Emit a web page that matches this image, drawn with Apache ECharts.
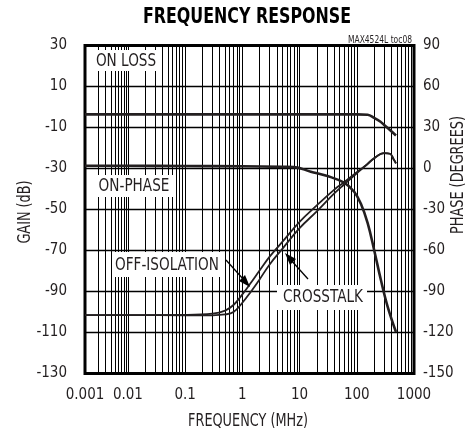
<!DOCTYPE html>
<html>
<head>
<meta charset="utf-8">
<script src="https://cdn.jsdelivr.net/npm/echarts@6/dist/echarts.min.js"></script>
<style>
  html, body { margin: 0; padding: 0; background: #fff; }
  #chart { width: 470px; height: 434px; }
</style>
</head>
<body>
<div id="chart"></div>
<script>
// frequency in MHz, gain in dB, phase in degrees
const X_LABELS = ['0.001', '0.01', '0.1', '1', '10', '100', '1000'];
const X_LABEL_FREQ = [0.001, 0.01, 0.1, 1, 10, 100, 1000];

const ONLOSS_FREQ = [0.001, 1, 100, 155, 201, 260, 301, 380, 484];
const ONLOSS_GAIN = [-3.6, -3.6, -3.6, -3.8, -5.3, -7.2, -8.8, -11.2, -13.9];

const PHASE_FREQ = [0.001, 0.01, 0.1, 1, 5, 8, 15.7, 30.7, 60, 90, 118, 155, 201, 264, 346, 484];
const PHASE_DEG = [2, 2, 1.8, 1.6, 1.2, 1, -2.3, -5.5, -10.4, -17, -25.8, -40, -59.6, -81.6, -101, -119.6];

const ISO_FREQ = [0.001, 0.01, 0.1, 0.3, 0.5, 0.7, 1, 1.4, 2, 3, 5, 10, 20, 40, 60, 100, 150, 200, 300, 380, 440, 484];
const OFF_ISOLATION = [-101.5, -101.5, -101.4, -100.8, -99.3, -96.6, -91.4, -85.9, -79.8, -73, -65.8, -56, -48, -40.4, -36.7, -31.8, -28, -25, -22.5, -22.8, -25.5, -27.5];
const CROSSTALK = [-101.5, -101.5, -101.6, -101.6, -101.2, -100, -95.5, -90.2, -84.1, -76.8, -69.2, -59.1, -50.9, -42.3, -37.8, -32.3, -28.2, -25.1, -22.5, -22.8, -25.5, -27.5];

// the first decade of the original plot is drawn narrower than the others
function toU(f) {
    const l = Math.log10(f)
    return l >= -2 ? l : -2 + (l + 2) * 0.75
}

const gridU = []
for (let d = -3; d < 3; d++) {
    for (let m = 1; m < 10; m++) {
        gridU.push(toU(m * Math.pow(10, d)))
    }
}
gridU.push(toU(1000))
const labelU = X_LABEL_FREQ.map(toU)

const FONT = "'Liberation Sans Narrow', 'DejaVu Sans Condensed', 'Roboto Condensed', 'Arial Narrow', sans-serif"
const INK = '#231f20'
const NARROW = 0.84

function pairs(xs, ys) {
    return xs.map((f, i) => [toU(f), ys[i]])
}

function note(text, x, y, size, extra) {
    return Object.assign({
        type: 'text', x: x, y: y, scaleX: NARROW, z: 11,
        style: { text: text, font: size + 'px ' + FONT, fill: INK, align: 'center', verticalAlign: 'middle' }
    }, extra || {})
}

const chart = echarts.init(document.getElementById('chart'))
const option = {
    backgroundColor: '#fff',
    animation: false,
    grid: {
        left: 85,
        right: 56,
        top: 45.5,
        bottom: 60.5,
        show: true,
        borderColor: '#000',
        borderWidth: 3,
        backgroundColor: '#fff'
    },
    xAxis: {
        type: 'value',
        min: toU(0.001),
        max: 3,
        axisLine: { show: false },
        axisTick: { show: false, customValues: gridU },
        splitLine: { show: true, lineStyle: { color: '#000', width: 1 } },
        axisLabel: {
            customValues: labelU,
            margin: 14,
            fontFamily: FONT,
            fontSize: 15,
            color: INK,
            formatter: function (v) {
                let best = 0
                labelU.forEach((u, i) => { if (Math.abs(u - v) < Math.abs(labelU[best] - v)) best = i })
                return X_LABELS[best]
            }
        }
    },
    yAxis: [{
        type: 'value',
        min: -130,
        max: 30,
        interval: 20,
        axisLine: { show: false },
        axisTick: { show: false },
        splitLine: { show: true, lineStyle: { color: '#000', width: 1.4 } },
        axisLabel: { margin: 18, fontFamily: FONT, fontSize: 15, color: INK }
    }, {
        type: 'value',
        min: -150,
        max: 90,
        interval: 30,
        position: 'right',
        axisLine: { show: false },
        axisTick: { show: false },
        splitLine: { show: false },
        axisLabel: { margin: 9, fontFamily: FONT, fontSize: 15, color: INK }
    }],
    series: [{
        name: 'ON LOSS',
        type: 'line',
        yAxisIndex: 0,
        smooth: 0.4,
        symbol: 'none',
        lineStyle: { color: INK, width: 2.6 },
        data: pairs(ONLOSS_FREQ, ONLOSS_GAIN)
    }, {
        name: 'ON-PHASE',
        type: 'line',
        yAxisIndex: 1,
        smooth: 0.4,
        symbol: 'none',
        lineStyle: { color: INK, width: 2.6 },
        data: pairs(PHASE_FREQ, PHASE_DEG)
    }, {
        name: 'OFF-ISOLATION',
        type: 'line',
        yAxisIndex: 0,
        smooth: 0.4,
        symbol: 'none',
        lineStyle: { color: INK, width: 1.8 },
        data: pairs(ISO_FREQ, OFF_ISOLATION)
    }, {
        name: 'CROSSTALK',
        type: 'line',
        yAxisIndex: 0,
        smooth: 0.4,
        symbol: 'none',
        lineStyle: { color: INK, width: 1.8 },
        data: pairs(ISO_FREQ, CROSSTALK)
    }],
    graphic: [
        note('FREQUENCY RESPONSE', 247, 18, 20, { style: { text: 'FREQUENCY RESPONSE', font: '900 21px ' + FONT, fill: '#000', align: 'center', verticalAlign: 'middle' } }),
        { type: 'text', x: 412, y: 40, scaleX: NARROW, style: { text: 'MAX4524L toc08', font: '10px ' + FONT, fill: INK, align: 'right', verticalAlign: 'middle' } },
        note('GAIN (dB)', 26, 212, 17, { rotation: Math.PI / 2 }),
        note('PHASE (DEGREES)', 459, 175, 17, { rotation: Math.PI / 2 }),
        note('FREQUENCY (MHz)', 248, 422, 17),
        { type: 'rect', shape: { x: 93, y: 50, width: 66, height: 21 }, style: { fill: '#fff' }, z: 10 },
        note('ON LOSS', 126, 61, 18),
        { type: 'rect', shape: { x: 95, y: 175, width: 78, height: 22 }, style: { fill: '#fff' }, z: 10 },
        note('ON-PHASE', 134, 186, 18),
        { type: 'rect', shape: { x: 112, y: 252, width: 111, height: 25 }, style: { fill: '#fff' }, z: 10 },
        note('OFF-ISOLATION', 167, 265, 18),
        { type: 'rect', shape: { x: 277, y: 285, width: 90, height: 25 }, style: { fill: '#fff' }, z: 10 },
        note('CROSSTALK', 323, 297, 18),
        { type: 'line', z: 12, shape: { x1: 226, y1: 260, x2: 244, y2: 280 }, style: { stroke: '#000', lineWidth: 1.3 } },
        { type: 'polygon', z: 12, shape: { points: [[250, 287], [239, 281], [245, 275]] }, style: { fill: '#000' } },
        { type: 'line', z: 12, shape: { x1: 308, y1: 279, x2: 290, y2: 259 }, style: { stroke: '#000', lineWidth: 1.3 } },
        { type: 'polygon', z: 12, shape: { points: [[285, 253], [296, 259], [290, 265]] }, style: { fill: '#000' } }
    ]
}
chart.setOption(option)
</script>
</body>
</html>
